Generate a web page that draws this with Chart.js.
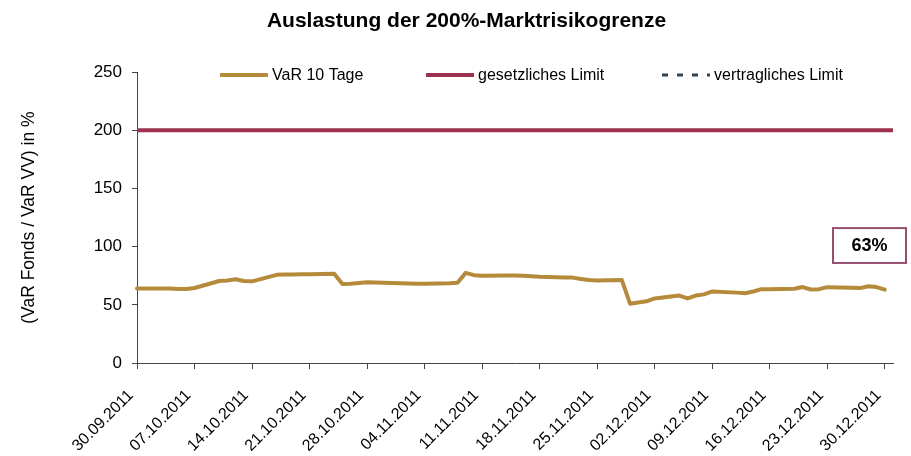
<!DOCTYPE html>
<html>
<head>
<meta charset="utf-8">
<script src="https://cdn.jsdelivr.net/npm/chart.js@4.4.1/dist/chart.umd.min.js"></script>
<style>
  html, body { margin: 0; padding: 0; background: #fff; }
</style>
</head>
<body>
<canvas id="chart" width="911" height="456"></canvas>
<script>
// weekly labels shown under the x axis
const tickLabels = ['30.09.2011', '07.10.2011', '14.10.2011', '21.10.2011', '28.10.2011',
    '04.11.2011', '11.11.2011', '18.11.2011', '25.11.2011', '02.12.2011',
    '09.12.2011', '16.12.2011', '23.12.2011', '30.12.2011'];

// business days with a VaR value
const varDates = [
    '30.09.2011',
    '03.10.2011', '04.10.2011', '05.10.2011', '06.10.2011', '07.10.2011',
    '10.10.2011', '11.10.2011', '12.10.2011', '13.10.2011', '14.10.2011',
    '17.10.2011', '18.10.2011', '19.10.2011', '20.10.2011', '21.10.2011',
    '24.10.2011', '25.10.2011', '26.10.2011', '27.10.2011', '28.10.2011',
    '31.10.2011', '01.11.2011', '02.11.2011', '03.11.2011', '04.11.2011',
    '07.11.2011', '08.11.2011', '09.11.2011', '10.11.2011', '11.11.2011',
    '14.11.2011', '15.11.2011', '16.11.2011', '17.11.2011', '18.11.2011',
    '21.11.2011', '22.11.2011', '23.11.2011', '24.11.2011', '25.11.2011',
    '28.11.2011', '29.11.2011', '30.11.2011', '01.12.2011', '02.12.2011',
    '05.12.2011', '06.12.2011', '07.12.2011', '08.12.2011', '09.12.2011',
    '12.12.2011', '13.12.2011', '14.12.2011', '15.12.2011', '16.12.2011',
    '19.12.2011', '20.12.2011', '21.12.2011', '22.12.2011', '23.12.2011',
    '26.12.2011', '27.12.2011', '28.12.2011', '29.12.2011', '30.12.2011'
];
const varValues = [
    64,
    64, 64, 63.6, 63.7, 64.5,
    70.5, 71, 72, 70.5, 70.2,
    75.8, 76, 76.1, 76.2, 76.3,
    76.8, 68, 68.2, 68.8, 69.5,
    68.8, 68.5, 68.3, 68.2, 68.2,
    68.5, 69, 77.5, 75.5, 75,
    75.2, 75.2, 75, 74.6, 74.2,
    73.6, 73.4, 72.3, 71.3, 71,
    71.3, 51, 52, 53, 55.5,
    58, 55.5, 58, 59, 61.5,
    60.5, 60, 61.5, 63.5, 63.3,
    63.8, 65.3, 63.2, 63.5, 65.2,
    64.6, 64.4, 66, 65.3, 63
];

const legalLimit = 200;

// every calendar day from 30.09.2011 to 31.12.2011
function dayLabels(y, m, d, count) {
    const out = [];
    for (let i = 0; i < count; i++) {
        const t = new Date(Date.UTC(y, m, d + i));
        const dd = String(t.getUTCDate()).padStart(2, '0');
        const mm = String(t.getUTCMonth() + 1).padStart(2, '0');
        out.push(dd + '.' + mm + '.' + t.getUTCFullYear());
    }
    return out;
}
const categories = dayLabels(2011, 8, 30, 93);

const varSeries = categories.map(c => {
    const i = varDates.indexOf(c);
    return i < 0 ? null : varValues[i];
});
const legalSeries = categories.map(() => legalLimit);
const contractSeries = [];

const FONT = '"Liberation Sans", Arial, sans-serif';
Chart.defaults.font.family = FONT;
Chart.defaults.color = '#000';

// title sits a little right of the canvas centre
const shiftTitle = {
    id: 'shiftTitle',
    afterLayout(chart) {
        const tb = chart.titleBlock;
        tb.left += 20; tb.right += 20;
    }
};

// one-row legend drawn inside the plot, from the dataset styles
const legendRow = {
    id: 'legendRow',
    afterDraw(chart, args, opts) {
        const ctx = chart.ctx;
        chart.data.datasets.forEach((ds, i) => {
            const x = opts.x[i];
            ctx.save();
            ctx.strokeStyle = ds.borderColor;
            ctx.lineWidth = ds.borderWidth;
            ctx.setLineDash(ds.borderDash || []);
            ctx.beginPath();
            ctx.moveTo(x, opts.y);
            ctx.lineTo(x + opts.lineLength, opts.y);
            ctx.stroke();
            ctx.setLineDash([]);
            ctx.fillStyle = '#000';
            ctx.font = '16px ' + FONT;
            ctx.textBaseline = 'middle';
            ctx.fillText(ds.label, x + opts.lineLength + opts.gap, opts.y + 1);
            ctx.restore();
        });
    }
};

// framed label with the latest value
const lastValueBox = {
    id: 'lastValueBox',
    afterDraw(chart, args, opts) {
        const {ctx, chartArea, scales} = chart;
        const y1 = scales.y.getPixelForValue(opts.top);
        const y2 = scales.y.getPixelForValue(opts.bottom);
        const x2 = chartArea.right + opts.overhang;
        const x1 = x2 - opts.width;
        const last = varValues[varValues.length - 1];
        ctx.save();
        ctx.fillStyle = '#fff';
        ctx.fillRect(x1, y1, x2 - x1, y2 - y1);
        ctx.strokeStyle = opts.color;
        ctx.lineWidth = 2;
        ctx.strokeRect(x1, y1, x2 - x1, y2 - y1);
        ctx.fillStyle = '#000';
        ctx.font = 'bold 18px ' + FONT;
        ctx.textAlign = 'center';
        ctx.textBaseline = 'middle';
        ctx.fillText(Math.round(last) + '%', (x1 + x2) / 2, (y1 + y2) / 2 + 1);
        ctx.restore();
    }
};

new Chart(document.getElementById('chart'), {
    type: 'line',
    data: {
        labels: categories,
        datasets: [
            {
                label: 'VaR 10 Tage',
                data: varSeries,
                borderColor: '#B58A3A',
                borderWidth: 4,
                borderCapStyle: 'round',
                borderJoinStyle: 'round',
                pointRadius: 0,
                spanGaps: true,
                tension: 0
            },
            {
                label: 'gesetzliches Limit',
                data: legalSeries,
                borderColor: '#9E3050',
                borderWidth: 4,
                pointRadius: 0
            },
            {
                label: 'vertragliches Limit',
                data: contractSeries,
                borderColor: '#2F4556',
                borderWidth: 3,
                borderDash: [6, 9],
                pointRadius: 0
            }
        ]
    },
    options: {
        responsive: false,
        animation: false,
        layout: { padding: { left: 0, right: 18, top: 0, bottom: 0 } },
        plugins: {
            title: {
                display: true,
                text: 'Auslastung der 200%-Marktrisikogrenze',
                color: '#000',
                font: { size: 21, weight: 'bold' },
                padding: { top: 9, bottom: 38 }
            },
            legend: { display: false },
            tooltip: { enabled: false },
            legendRow: { x: [220, 426, 662], y: 75, lineLength: 48, gap: 4 },
            lastValueBox: { top: 116, bottom: 86, width: 73, overhang: 13, color: '#94506E' }
        },
        scales: {
            x: {
                grid: { drawOnChartArea: false, tickLength: 6, color: '#444' },
                border: { color: '#444' },
                ticks: {
                    autoSkip: false,
                    maxRotation: 45,
                    minRotation: 45,
                    padding: 17,
                    labelOffset: -6,
                    color: '#000',
                    font: { size: 16 },
                    callback(value) {
                        const l = this.getLabelForValue(value);
                        return tickLabels.includes(l) ? l : null;
                    }
                },
                afterFit(scale) {
                    scale.height = 93;
                    scale.paddingLeft = 0;
                    scale.paddingRight = 0;
                }
            },
            y: {
                min: 0,
                max: 250,
                ticks: { stepSize: 50, padding: 10, color: '#000', font: { size: 17 } },
                grid: { drawOnChartArea: false, tickLength: 5, color: '#444' },
                border: { color: '#444' },
                title: {
                    display: true,
                    text: '(VaR Fonds / VaR VV) in %',
                    color: '#000',
                    font: { size: 17.5 },
                    padding: { top: 19, bottom: 0 }
                },
                afterFit(scale) { scale.width = 137; }
            }
        }
    },
    plugins: [shiftTitle, legendRow, lastValueBox]
});
</script>
</body>
</html>
